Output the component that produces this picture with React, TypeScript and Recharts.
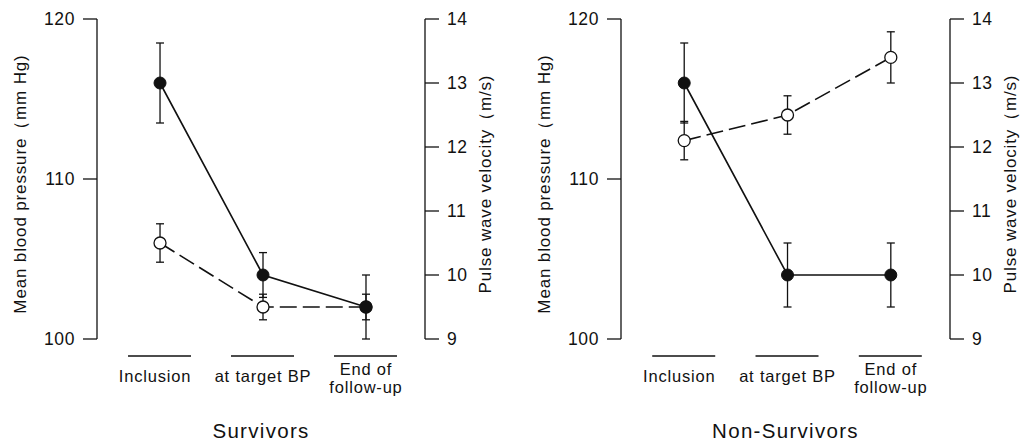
import React from 'react';
import { ComposedChart, Line, XAxis, YAxis, ErrorBar } from 'recharts';

// ---- data ----
const categoryLines: string[][] = [['Inclusion'], ['at target BP'], ['End of', 'follow-up']];
const survivorsMbp = [116, 104, 102];
const survivorsMbpErr = [2.5, 1.4, 2];
const survivorsPwv = [10.5, 9.5, 9.5];
const survivorsPwvErr = [0.3, 0.2, 0.2];
const nonSurvivorsMbp = [116, 104, 104];
const nonSurvivorsMbpErr = [2.5, 2, 2];
const nonSurvivorsPwv = [12.1, 12.5, 13.4];
const nonSurvivorsPwvErr = [0.3, 0.3, 0.4];
const mbpTicks = [100, 110, 120];
const pwvTicks = [9, 10, 11, 12, 13, 14];
const panelTitles = ['Survivors', 'Non-Survivors'];
const leftAxisTitle = 'Mean blood pressure（mm Hg)';
const rightAxisTitle = 'Pulse wave velocity（m/s)';

const FONT = '"Liberation Sans", Arial, Helvetica, sans-serif';
const INK = '#111';

function buildRows(mbp: number[], mbpErr: number[], pwv: number[], pwvErr: number[]) {
  return categoryLines.map((_, i) => ({
    idx: i,
    mbp: mbp[i],
    mbpErr: mbpErr[i],
    pwv: pwv[i],
    pwvErr: pwvErr[i],
  }));
}

const CategoryTick = (props: any) => {
  const { x, y, payload } = props;
  const lines = categoryLines[payload.value] || [];
  const baselines = lines.length === 1 ? [y + 43] : [y + 36, y + 54];
  return (
    <g>
      <line x1={x - 32} x2={x + 31} y1={y + 17} y2={y + 17} stroke={INK} strokeWidth={1.3} />
      {lines.map((t, i) => (
        <text
          key={i}
          x={x - (payload.value === 0 ? 5 : 0)}
          y={baselines[i]}
          textAnchor="middle"
          fontSize={16.5}
          letterSpacing={0.8}
          fontFamily={FONT}
          fill={INK}
        >
          {t}
        </text>
      ))}
    </g>
  );
};

type PanelProps = {
  left: number;
  width: number;
  rightWidth: number;
  title: string;
  rows: any[];
};

const Panel = ({ left, width, rightWidth, title, rows }: PanelProps) => (
  <div style={{ position: 'absolute', left, top: 0 }}>
    <ComposedChart
      width={width}
      height={441}
      data={rows}
      margin={{ top: 19, right: 0, left: 0, bottom: 0 }}
    >
      <XAxis
        dataKey="idx"
        type="number"
        domain={[-0.612, 2.573]}
        ticks={[0, 1, 2]}
        axisLine={false}
        tickLine={false}
        tickSize={0}
        tickMargin={0}
        height={102}
        tick={<CategoryTick />}
        interval={0}
        label={{
          content: (p: any) => {
            const vb = p.viewBox || { x: 0, y: 0, width: 0, height: 0 };
            return (
              <text
                x={vb.x + vb.width / 2}
                y={vb.y + 99}
                textAnchor="middle"
                fontSize={20.5}
                letterSpacing={1.3}
                fontFamily={FONT}
                fill={INK}
              >
                {title}
              </text>
            );
          },
        }}
      />
      <YAxis
        yAxisId="mbp"
        orientation="left"
        width={97}
        domain={[100, 120]}
        ticks={mbpTicks}
        tickSize={14}
        tickMargin={8}
        stroke={INK}
        strokeWidth={1.3}
        tick={{ fontSize: 17.5, fill: INK, fontFamily: FONT, letterSpacing: 0.6 }}
        label={{
          content: (p: any) => {
            const vb = p.viewBox || { x: 0, y: 0, width: 0, height: 0 };
            const cx = vb.x + 20;
            const cy = vb.y + vb.height / 2 + 5;
            return (
              <text
                x={cx}
                y={cy}
                transform={`rotate(-90, ${cx}, ${cy})`}
                textAnchor="middle"
                dominantBaseline="central"
                fontSize={17}
                letterSpacing={0.85}
                fontFamily={FONT}
                fill={INK}
              >
                {leftAxisTitle}
              </text>
            );
          },
        }}
      />
      <YAxis
        yAxisId="pwv"
        orientation="right"
        width={rightWidth}
        domain={[9, 14]}
        ticks={pwvTicks}
        tickSize={14}
        tickMargin={8}
        stroke={INK}
        strokeWidth={1.3}
        tick={{ fontSize: 17.5, fill: INK, fontFamily: FONT, letterSpacing: 0.6 }}
        label={{
          content: (p: any) => {
            const vb = p.viewBox || { x: 0, y: 0, width: 0, height: 0 };
            const cx = vb.x + 60;
            const cy = vb.y + vb.height / 2 + 5;
            return (
              <text
                x={cx}
                y={cy}
                transform={`rotate(-90, ${cx}, ${cy})`}
                textAnchor="middle"
                dominantBaseline="central"
                fontSize={17}
                letterSpacing={0.85}
                fontFamily={FONT}
                fill={INK}
              >
                {rightAxisTitle}
              </text>
            );
          },
        }}
      />
      <Line
        yAxisId="pwv"
        dataKey="pwv"
        type="linear"
        stroke={INK}
        strokeWidth={1.6}
        strokeDasharray="17 6"
        dot={{ r: 6, fill: '#fff', stroke: INK, strokeWidth: 1.3, strokeDasharray: '' }}
        isAnimationActive={false}
      >
        <ErrorBar dataKey="pwvErr" direction="y" width={4} stroke={INK} strokeWidth={1.3} />
      </Line>
      <Line
        yAxisId="mbp"
        dataKey="mbp"
        type="linear"
        stroke={INK}
        strokeWidth={1.6}
        dot={{ r: 6, fill: INK, stroke: INK, strokeWidth: 1 }}
        isAnimationActive={false}
      >
        <ErrorBar dataKey="mbpErr" direction="y" width={4} stroke={INK} strokeWidth={1.3} />
      </Line>
    </ComposedChart>
  </div>
);

export default function App() {
  const survivorsRows = buildRows(survivorsMbp, survivorsMbpErr, survivorsPwv, survivorsPwvErr);
  const nonSurvivorsRows = buildRows(nonSurvivorsMbp, nonSurvivorsMbpErr, nonSurvivorsPwv, nonSurvivorsPwvErr);
  return (
    <div
      style={{
        position: 'absolute',
        left: 0,
        top: 0,
        width: 1020,
        height: 441,
        background: '#fff',
        overflow: 'hidden',
      }}
    >
      <Panel left={0} width={510} rightWidth={85} title={panelTitles[0]} rows={survivorsRows} />
      <Panel left={524} width={496} rightWidth={70} title={panelTitles[1]} rows={nonSurvivorsRows} />
    </div>
  );
}
